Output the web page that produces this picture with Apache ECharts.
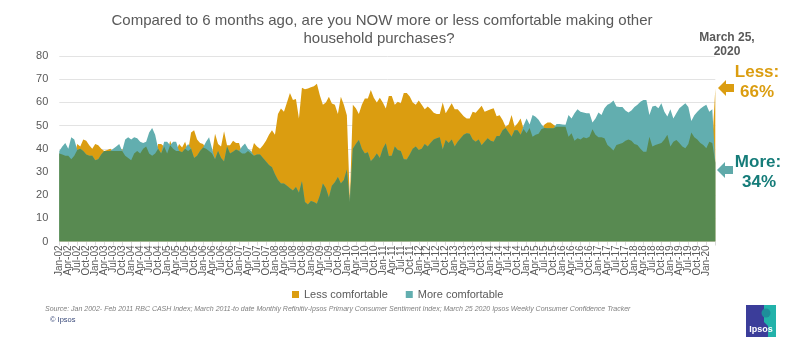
<!DOCTYPE html>
<html>
<head>
<meta charset="utf-8">
<script src="https://cdn.jsdelivr.net/npm/echarts@6/dist/echarts.min.js"></script>
<style>
html,body{margin:0;padding:0;background:#fff;}
#chart{width:798px;height:348px;}
</style>
</head>
<body>
<div id="chart"></div>
<script>
// ---- Data ----
const monthNames = ['Jan','Feb','Mar','Apr','May','Jun','Jul','Aug','Sep','Oct','Nov','Dec'];
const firstYear = 2002;
const lastMonthly = {year: 2020, month: 3};
const finalPointLabel = 'Mar 25, 2020';

const lessComfortable = [
  38, 37.5, 37, 37, 35.5, 37, 42, 41, 44, 43.5,
  41.5, 40, 42, 41.5, 40, 39, 39.5, 40, 39, 39,
  39, 40, 37, 36, 35, 38, 39, 38, 40, 41,
  38, 37, 38, 42, 42, 41, 38, 43.5, 40, 39,
  42, 40.5, 43, 39, 47, 48, 44, 42.5, 42, 40,
  39, 38, 46.5, 42, 41, 47.5, 41.5, 41.5, 43.5, 42.5,
  42.5, 38, 38, 39, 38, 42.5, 41, 40, 41.5, 43.5,
  46, 48, 46, 55, 57.4, 56, 60, 64, 61, 61.5,
  53, 66.3, 65.7, 66, 66.5, 67, 68, 63, 59, 60,
  62.4, 59.5, 59, 55, 62.4, 59, 54.5, 18, 59, 57.5,
  55, 59, 61.7, 61.7, 65.3, 62, 60, 62, 60, 57.4,
  62.8, 62.8, 59, 60.3, 59.6, 64, 64, 62.5, 60, 59,
  60.8, 59, 57, 58.2, 57, 55.5, 55, 55, 60, 55.3,
  57.5, 59.6, 57, 57, 55.5, 54, 53, 53, 56, 55.5,
  57, 58.5, 56, 56.5, 57, 57.5, 54, 54.5, 52.4, 49.5,
  50.5, 54.6, 49.5, 51, 53, 48.5, 46.7, 49, 45.2, 46,
  46.5, 48.5, 50.5, 51.3, 51.3, 50.3, 49.5, 49.5, 49.5, 49.5,
  45.2, 46.7, 43.5, 44.5, 44, 45, 44.5, 45.2, 48.4, 46,
  45, 45, 44.5, 41.6, 40.5, 39.2, 41.6, 42, 42.5, 43.5,
  44, 43.5, 42, 41.6, 40, 38.7, 38.7, 45.2, 41, 41.6,
  42, 42.5, 44, 46, 41, 43, 43.8, 42.5, 41, 40.2,
  42, 47, 45, 44, 42.5, 41.6, 40.2, 43, 42.5, 66
];

const moreComfortable = [
  39, 41, 42.5, 40, 45, 44, 39.5, 40, 39, 37.5,
  37, 37, 35, 35.5, 37.5, 39, 39, 39, 40, 41,
  42, 39, 44, 45, 44, 45, 44.5, 43, 42.5, 43,
  47, 49, 46, 40, 38, 43, 43, 41.5, 43, 43,
  39, 38.5, 40, 42, 40, 36, 37, 39, 40.5, 43,
  45, 40, 35.5, 39, 36, 34.5, 41, 38, 38.7, 39.7,
  39, 41, 42.3, 40, 39, 37, 37.5, 37.5, 36, 34.5,
  33, 32, 29, 26.5, 25, 25, 24, 23, 22, 23.5,
  21, 26, 17, 16, 17.5, 17, 16.3, 20, 25, 23,
  19, 24, 25.6, 27.8, 25, 26.5, 31, 17, 40, 42,
  43.8, 40, 38, 38.5, 34.6, 36, 38, 36, 40, 42.4,
  36.9, 37, 41, 39.5, 39, 35.5, 35.4, 37.5, 40, 41,
  39.5, 40, 42, 41, 42.6, 44, 44.5, 45, 39.7, 43.8,
  42.5, 44, 41, 43, 44.5, 46, 46.7, 46.5, 44, 43,
  44, 41.5, 43, 44.5, 43.5, 43, 45.5, 45.5, 48, 49,
  47, 45.2, 48, 48, 46, 50, 53, 50.5, 54.6, 53.8,
  52.5, 50.5, 49, 48.8, 48.8, 48.8, 50.7, 50.7, 50.5, 50.3,
  54.6, 53, 55.3, 57, 56, 55.6, 55.3, 55.3, 51.3, 53,
  55.6, 54.6, 57.5, 59, 59.6, 60.8, 58.2, 58, 58, 56.5,
  55.6, 56.5, 58, 59, 60.3, 61, 61, 54.6, 58.2, 58.5,
  57.5, 59.6, 56, 53.9, 57, 53, 55.3, 57.5, 58.5, 59.6,
  58, 52, 54.5, 56, 57.2, 58.2, 59, 56, 57, 34
];

const yTicks = {min: 0, max: 80, interval: 10};

// ---- Build categories ----
const categories = [];
for (let y = firstYear; y <= lastMonthly.year; y++) {
  for (let m = 0; m < 12; m++) {
    if (y === lastMonthly.year && m >= lastMonthly.month) break;
    categories.push(monthNames[m] + '-' + String(y).slice(2));
  }
}
categories.push(finalPointLabel);

const overlap = lessComfortable.map((v, i) => Math.min(v, moreComfortable[i]));
const lastIdx = categories.length - 1;

const ORANGE = '#DB9D10';
const TEAL = '#62AEAF';
const GREEN = '#588A51';
const GREY = '#595959';
const FONT = '"Liberation Sans", Arial, sans-serif';

const chart = echarts.init(document.getElementById('chart'), null, {renderer: 'canvas'});

function areaSeries(name, data, color, z) {
  return {
    name: name,
    type: 'line',
    xAxisIndex: 0,
    data: data,
    symbol: 'none',
    showSymbol: false,
    smooth: false,
    z: z,
    itemStyle: {color: color},
    lineStyle: {width: 0, color: color},
    areaStyle: {color: color, opacity: 1},
    emphasis: {disabled: true},
    animation: false
  };
}

const labelBase = {
  rotate: 90,
  color: GREY,
  fontSize: 10,
  fontFamily: FONT,
  margin: 4,
  hideOverlap: false,
  showMinLabel: true,
  showMaxLabel: true
};

chart.setOption({
  animation: false,
  backgroundColor: '#ffffff',
  grid: {left: 59.3, right: 82.7, top: 56, bottom: 106.5, containLabel: false},
  legend: {
    data: ['Less comfortable', 'More comfortable'],
    left: 287,
    top: 284,
    icon: 'rect',
    itemWidth: 7,
    itemHeight: 7,
    itemGap: 18,
    textStyle: {color: GREY, fontSize: 11, fontFamily: FONT},
    selectedMode: false
  },
  xAxis: [
    {
      type: 'category',
      data: categories,
      boundaryGap: false,
      position: 'bottom',
      axisLine: {lineStyle: {color: '#d9d9d9'}},
      axisTick: {show: true, interval: 2, length: 4, lineStyle: {color: '#d9d9d9'}},
      axisLabel: Object.assign({}, labelBase, {
        interval: (idx) => idx % 6 === 0 && idx < lastIdx,
        formatter: (value, idx) => (idx % 6 === 0 && idx < lastIdx ? value : '')
      })
    },
    {
      type: 'category',
      data: categories,
      boundaryGap: false,
      position: 'bottom',
      offset: 0,
      axisLine: {show: false},
      axisTick: {show: false},
      splitLine: {show: false},
      axisLabel: Object.assign({}, labelBase, {
        interval: (idx) => idx % 6 === 3 && idx < lastIdx,
        formatter: (value, idx) => (idx % 6 === 3 && idx < lastIdx ? value : '')
      })
    }
  ],
  yAxis: {
    type: 'value',
    min: yTicks.min,
    max: yTicks.max,
    interval: yTicks.interval,
    axisLine: {show: false},
    axisTick: {show: false},
    axisLabel: {color: GREY, fontSize: 11, fontFamily: FONT, margin: 11},
    splitLine: {lineStyle: {color: '#e3e3e3', width: 1}}
  },
  series: [
    areaSeries('Less comfortable', lessComfortable, ORANGE, 2),
    areaSeries('More comfortable', moreComfortable, TEAL, 3),
    areaSeries('Both', overlap, GREEN, 4)
  ],
  graphic: [
    {type: 'text', x: 382, y: 13, style: {text: 'Compared to 6 months ago, are you NOW more or less comfortable making other', textAlign: 'center', fill: GREY, fontSize: 15, fontFamily: FONT}},
    {type: 'text', x: 379, y: 31, style: {text: 'household purchases?', textAlign: 'center', fill: GREY, fontSize: 15, fontFamily: FONT}},
    {type: 'text', x: 727, y: 32, style: {text: 'March 25,', textAlign: 'center', fill: GREY, fontSize: 12, fontWeight: 'bold', fontFamily: FONT}},
    {type: 'text', x: 727, y: 46, style: {text: '2020', textAlign: 'center', fill: GREY, fontSize: 12, fontWeight: 'bold', fontFamily: FONT}},
    {type: 'text', x: 757, y: 64, style: {text: 'Less:', textAlign: 'center', fill: ORANGE, fontSize: 17, fontWeight: 'bold', fontFamily: FONT}},
    {type: 'text', x: 757, y: 84, style: {text: '66%', textAlign: 'center', fill: ORANGE, fontSize: 17, fontWeight: 'bold', fontFamily: FONT}},
    {type: 'text', x: 758, y: 154, style: {text: 'More:', textAlign: 'center', fill: '#157C79', fontSize: 17, fontWeight: 'bold', fontFamily: FONT}},
    {type: 'text', x: 759, y: 174, style: {text: '34%', textAlign: 'center', fill: '#157C79', fontSize: 17, fontWeight: 'bold', fontFamily: FONT}},
    {type: 'polygon', shape: {points: [[718,88],[726,80],[726,84],[734,84],[734,92],[726,92],[726,96]]}, style: {fill: ORANGE}},
    {type: 'polygon', shape: {points: [[717,170],[725,162],[725,166],[733,166],[733,174],[725,174],[725,178]]}, style: {fill: '#5FA9A9'}},
    {type: 'text', x: 45, y: 306, style: {text: 'Source: Jan 2002- Feb 2011 RBC CASH Index; March 2011-to date Monthly Refinitiv-Ipsos Primary Consumer Sentiment Index; March 25 2020 Ipsos Weekly Consumer Confidence Tracker', fill: '#7f7f7f', fontSize: 7, fontStyle: 'italic', fontFamily: FONT}},
    {type: 'text', x: 50, y: 316, style: {text: '© Ipsos', fill: '#3a4a7a', fontSize: 7.5, fontFamily: FONT}},
    {type: 'rect', shape: {x: 746, y: 305, width: 30, height: 32}, style: {fill: '#3B3D9A'}},
    {type: 'polygon', shape: {points: [[764,305],[776,305],[776,337],[768,337],[768,326],[764,322]]}, style: {fill: '#22B2AA'}},
    {type: 'circle', shape: {cx: 766, cy: 313, r: 4.5}, style: {fill: '#1E8E9A'}},
    {type: 'text', x: 761, y: 325, style: {text: 'Ipsos', textAlign: 'center', fill: '#ffffff', fontSize: 9, fontWeight: 'bold', fontFamily: FONT}}
  ]
});
</script>
</body>
</html>
